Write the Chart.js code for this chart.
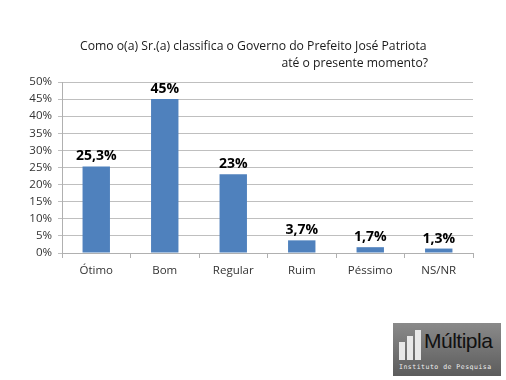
<!DOCTYPE html>
<html><head><meta charset="utf-8">
<script src="https://cdn.jsdelivr.net/npm/chart.js@4/dist/chart.umd.min.js"></script>
<style>
html,body{margin:0;padding:0;background:#fff;width:506px;height:380px;overflow:hidden;font-family:"Open Sans","Noto Sans",sans-serif;}
#wrap{position:absolute;left:0;top:0;width:506px;height:380px;}
.t{position:absolute;font-size:12.2px;color:#1a1a1a;white-space:nowrap;}
#logo{position:absolute;left:393px;top:323px;width:108px;height:53px;background:linear-gradient(#8a8a8a,#5c5c5c);overflow:hidden;}
#logo .name{position:absolute;left:31px;top:6px;font-size:21px;color:#111;font-family:"Liberation Sans Narrow","Liberation Sans",sans-serif;letter-spacing:-0.5px;white-space:nowrap;}
#logo .sub{position:absolute;left:6px;top:40px;font-size:6.5px;color:#eee;letter-spacing:0.5px;font-family:"DejaVu Sans Mono",monospace;white-space:nowrap;}
#logo .b{position:absolute;background:#e8e8e8;bottom:16px;}
</style></head>
<body>
<div id="wrap"><canvas id="c" width="506" height="380"></canvas></div>
<div class="t" style="left:80px;top:37px;">Como o(a) Sr.(a) classifica o Governo do Prefeito José Patriota</div>
<div class="t" style="right:78px;top:54px;">até o presente momento?</div>
<div id="logo">
  <div class="b" style="left:6px;width:6px;height:18px;"></div>
  <div class="b" style="left:14px;width:6px;height:24px;"></div>
  <div class="b" style="left:22px;width:6px;height:30px;"></div>
  <div class="name">Múltipla</div>
  <div class="sub">Instituto de Pesquisa</div>
</div>
<script>
const categories = ["Ótimo","Bom","Regular","Ruim","Péssimo","NS/NR"];
const values = [25.3, 45, 23, 3.7, 1.7, 1.3];
const valueLabels = ["25,3%","45%","23%","3,7%","1,7%","1,3%"];
const yTicks = [0,5,10,15,20,25,30,35,40,45,50];

const labelPlugin = {
  id:'vlabels',
  afterDatasetsDraw(chart){
    const ctx = chart.ctx;
    const meta = chart.getDatasetMeta(0);
    ctx.save();
    ctx.font = 'bold 14px "Open Sans","Noto Sans",sans-serif';
    ctx.fillStyle = '#000';
    ctx.textAlign = 'center';
    ctx.textBaseline = 'bottom';
    meta.data.forEach((bar,i)=>{
      ctx.fillText(valueLabels[i], bar.x, bar.y - 3);
    });
    ctx.restore();
  }
};

new Chart(document.getElementById('c'),{
  type:'bar',
  data:{labels:categories,datasets:[{data:values,backgroundColor:'#4f81bd',borderWidth:0,barPercentage:0.4,categoryPercentage:1}]},
  options:{
    responsive:false,animation:false,
    layout:{padding:{left:0,right:33,top:82,bottom:0}},
    plugins:{legend:{display:false},tooltip:{enabled:false}},
    scales:{
      x:{
        grid:{display:true,drawOnChartArea:false,offset:true,tickLength:5,color:'#b0b0b0'},
        border:{color:'#b0b0b0'},
        ticks:{color:'#333',font:{size:11.5,family:'"Open Sans","Noto Sans",sans-serif'},padding:6},
        afterFit(s){s.height = 380-253;}
      },
      y:{
        min:0,max:50,
        afterBuildTicks(s){s.ticks = yTicks.map(v=>({value:v}));},
        grid:{color:'#bfbfbf',tickLength:4,drawTicks:true},
        border:{color:'#b0b0b0'},
        ticks:{color:'#333',font:{size:11.5,family:'"Open Sans","Noto Sans",sans-serif'},padding:6,callback:v=>v+'%'},
        afterFit(s){s.width = 62;}
      }
    }
  },
  plugins:[labelPlugin]
});
</script>
</body></html>
